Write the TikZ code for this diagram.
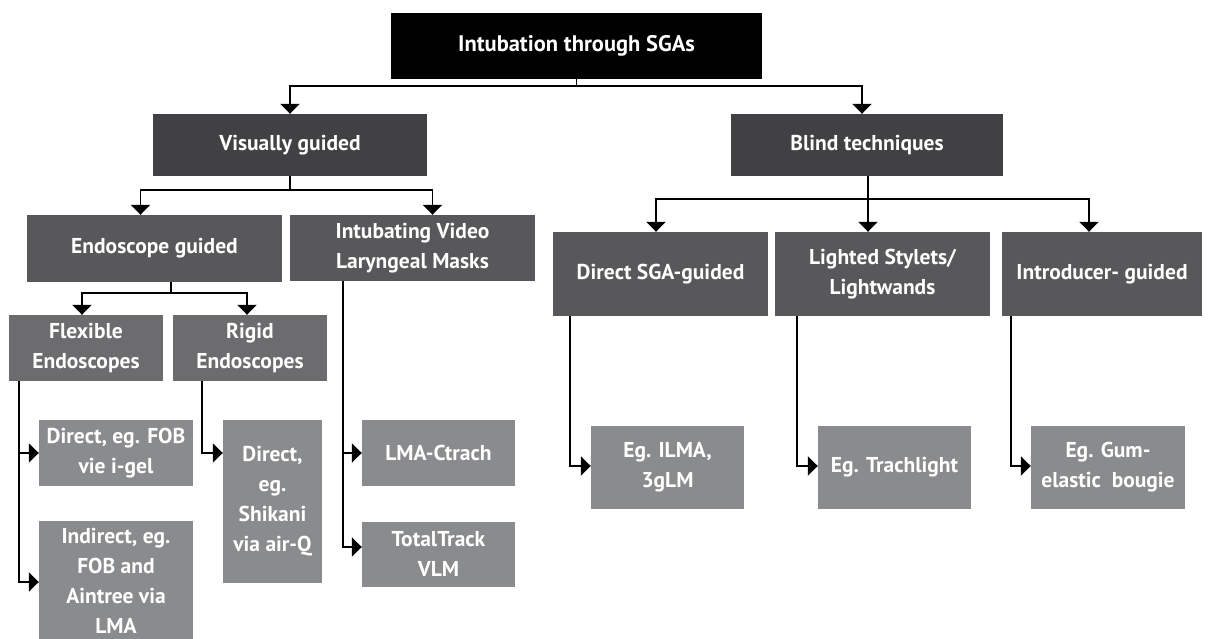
\documentclass[tikz,border=0pt]{standalone}
\usepackage{fontspec}
\setmainfont{PT Sans}
\usetikzlibrary{arrows.meta}
\definecolor{cA}{HTML}{000000}
\definecolor{cB}{HTML}{414042}
\definecolor{cC}{HTML}{58585A}
\definecolor{cD}{HTML}{6C6C6E}
\definecolor{cE}{HTML}{8A8B8D}
\tikzset{
  box/.style={rectangle, inner sep=0pt, align=center, text=white,
    font=\fontsize{21.5}{30}\selectfont\bfseries},
  arr/.style={line width=1.9pt, -{Triangle[width=19pt,length=10pt]}},
  ln/.style={line width=1.9pt},
}
\begin{document}
\begin{tikzpicture}[x=1pt,y=-1pt]
\useasboundingbox (0,0) rectangle (1208,639);
% nodes
\node[box, fill=cA, minimum width=371pt, minimum height=66pt, font=\fontsize{22.5}{30}\selectfont\bfseries] (top) at (576.5,46) {Intubation through SGAs};
\node[box, fill=cB, minimum width=274pt, minimum height=62pt] (vis) at (290,145) {Visually guided};
\node[box, fill=cB, minimum width=272pt, minimum height=62pt] (blind) at (867,145) {Blind techniques};
\node[box, fill=cC, minimum width=255pt, minimum height=67pt] (endo) at (154.5,248.5) {Endoscope guided};
\node[box, fill=cC, minimum width=245pt, minimum height=66pt] (ivlm) at (412.5,248) {Intubating Video\\Laryngeal Masks};
\node[box, fill=cC, minimum width=215pt, minimum height=84pt] (dsga) at (660.5,274) {Direct SGA-guided};
\node[box, fill=cC, minimum width=215pt, minimum height=84pt] (light) at (882.5,274) {Lighted Stylets/\\Lightwands};
\node[box, fill=cC, minimum width=200pt, minimum height=84pt] (intro) at (1102,274) {Introducer- guided};
\node[box, fill=cD, minimum width=154pt, minimum height=66pt] (flex) at (86,348) {Flexible\\Endoscopes};
\node[box, fill=cD, minimum width=154pt, minimum height=66pt] (rigid) at (250,348) {Rigid\\Endoscopes};
\node[box, fill=cE, minimum width=154pt, minimum height=66pt] (dfob) at (116,453) {Direct, eg. FOB\\vie i-gel};
\node[box, fill=cE, minimum width=154pt, minimum height=120pt] (indir) at (116,581) {Indirect, eg.\\FOB and\\Aintree via\\LMA};
\node[box, fill=cE, minimum width=99pt, minimum height=163pt] (shik) at (272.5,501.5) {Direct,\\eg.\\Shikani\\via air-Q};
\node[box, fill=cE, minimum width=153pt, minimum height=66pt] (ctrach) at (438.5,453) {LMA-Ctrach};
\node[box, fill=cE, minimum width=153pt, minimum height=65pt] (total) at (438.5,554.5) {TotalTrack\\VLM};
\node[box, fill=cE, minimum width=153pt, minimum height=83pt] (ilma) at (667.5,467.5) {Eg. ILMA,\\3gLM};
\node[box, fill=cE, minimum width=153pt, minimum height=83pt] (trach) at (894.5,467.5) {Eg. Trachlight};
\node[box, fill=cE, minimum width=154pt, minimum height=83pt] (gum) at (1108,467.5) {Eg. Gum-\\elastic\ \ bougie};
% connectors
\draw[ln] (top.south) -- ++(0,7) coordinate (ja);
\draw[arr] (ja) -| (vis.north);
\draw[arr] (ja) -| ([xshift=-5pt]blind.north);
\draw[ln] (vis.south) -- ++(0,14) coordinate (jb);
\draw[arr] (jb) -| ([xshift=-14pt]endo.north);
\draw[arr] (jb) -| ([xshift=20pt]ivlm.north);
\draw[ln] ([xshift=1pt]blind.south) -- ++(0,23) coordinate (jc);
\draw[arr] (jc) -| ([xshift=-4.5pt]dsga.north);
\draw[arr] (jc) -- ([xshift=-14.5pt]light.north);
\draw[arr] (jc) -| ([xshift=-13pt]intro.north);
\draw[ln] ([xshift=16.5pt]endo.south) -- ++(0,11) coordinate (jd);
\draw[arr] (jd) -| ([xshift=-4pt]flex.north);
\draw[arr] (jd) -| ([xshift=-3pt]rigid.north);
\draw[arr] ([xshift=-67pt]flex.south) |- (dfob.west);
\draw[arr] ([xshift=-67pt]flex.south) |- ([yshift=-1pt]indir.west);
\draw[arr] ([xshift=-48pt]rigid.south) |- (shik.west |- dfob.west);
\draw[arr] ([xshift=-69.5pt]ivlm.south) |- (ctrach.west);
\draw[arr] ([xshift=-69.5pt]ivlm.south) |- ([yshift=7.5pt]total.west);
\draw[arr] ([xshift=-90.5pt]dsga.south) |- ([yshift=1.5pt]ilma.west);
\draw[arr] ([xshift=-85.5pt]light.south) |- ([yshift=1.5pt]trach.west);
\draw[arr] ([xshift=-91pt]intro.south) |- ([yshift=1.5pt]gum.west);
\end{tikzpicture}
\end{document}
